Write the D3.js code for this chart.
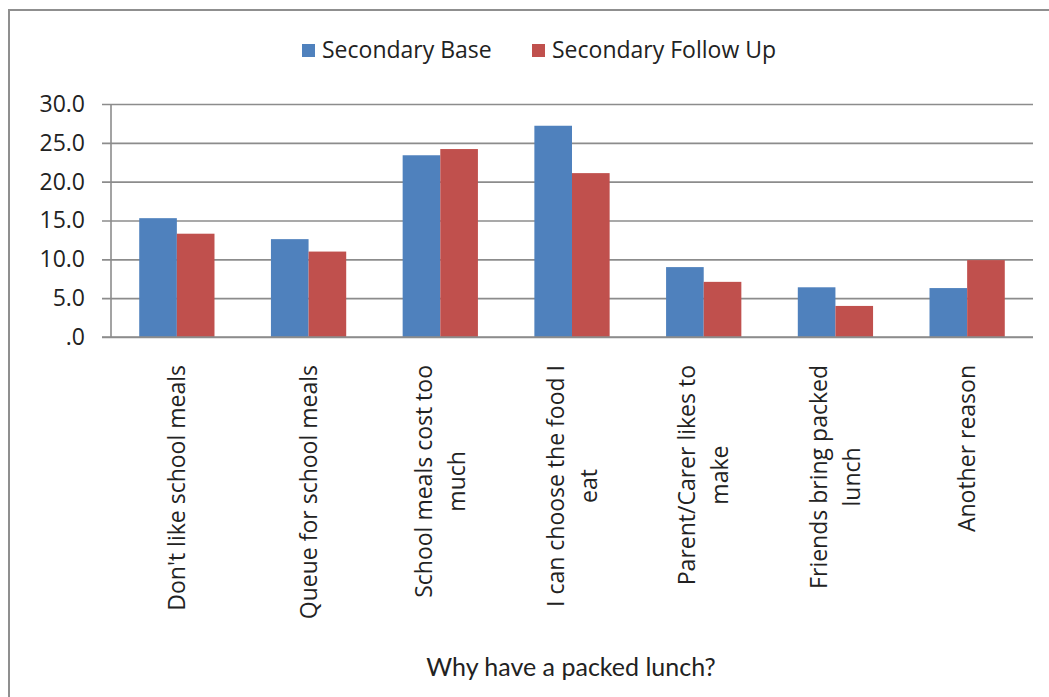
<!DOCTYPE html>
<html>
<head>
<meta charset="utf-8">
<script src="https://cdn.jsdelivr.net/npm/d3@7"></script>
<style>
  html, body { margin: 0; padding: 0; background: #fff; }
  svg { display: block; }
</style>
</head>
<body>
<svg id="chart" width="1049" height="697"></svg>
<script>
const categories = [
  ["Don't like school meals"],
  ["Queue for school meals"],
  ["School meals cost too", "much"],
  ["I can choose the food I", "eat"],
  ["Parent/Carer likes to", "make"],
  ["Friends bring packed", "lunch"],
  ["Another reason"]
];
const seriesNames = ["Secondary Base", "Secondary Follow Up"];
const baseValues = [15.3, 12.6, 23.4, 27.2, 9.0, 6.4, 6.3];
const followUpValues = [13.3, 11.0, 24.2, 21.1, 7.1, 4.0, 9.9];
const yTicks = [0, 5, 10, 15, 20, 25, 30];
const colors = ["#4F81BD", "#C0504D"];
const axisTitle = "Why have a packed lunch?";

(function () {
const svg = d3.select("#chart");
const plotL = 111, plotR = 1033, plotT = 104, plotB = 337;

// outer frame (extends past the bottom/right of the view)
svg.append("rect")
  .attr("x", 9).attr("y", 10).attr("width", 1200).attr("height", 900)
  .attr("fill", "none").attr("stroke", "#8f8f8f").attr("stroke-width", 2);

const idx = categories.map((d, i) => i);
const x = d3.scaleBand().domain(idx).range([plotL, plotR])
  .paddingInner(1.5 / 3.5).paddingOuter(0.75 / 3.5);
const xs = d3.scaleBand().domain([0, 1]).range([0, x.bandwidth()]);
const y = d3.scaleLinear().domain([0, 30]).range([plotB, plotT]);

// gridlines + y axis ticks
const yAxis = d3.axisLeft(y).tickValues(yTicks)
  .tickSize(-(plotR - plotL))
  .tickFormat(d => d === 0 ? ".0" : d.toFixed(1));
const gy = svg.append("g").attr("transform", `translate(${plotL},0)`).call(yAxis);
gy.select(".domain").remove();
gy.selectAll(".tick line")
  .attr("x1", -(plotL - 102))
  .attr("stroke", "#8c8c8c").attr("stroke-width", 1.6);
gy.selectAll(".tick text")
  .attr("x", -26)
  .attr("font-family", "'Open Sans', sans-serif")
  .attr("font-size", 23).attr("fill", "#222");

// y axis line
svg.append("line")
  .attr("x1", plotL).attr("x2", plotL).attr("y1", plotT).attr("y2", plotB)
  .attr("stroke", "#8c8c8c").attr("stroke-width", 1.6);

// bars
const seriesData = [baseValues, followUpValues];
seriesData.forEach((vals, s) => {
  svg.append("g").selectAll("rect")
    .data(vals)
    .join("rect")
    .attr("x", (d, i) => x(i) + xs(s))
    .attr("width", xs.bandwidth())
    .attr("y", d => y(d))
    .attr("height", d => y(0) - y(d))
    .attr("fill", colors[s]);
});

// x axis baseline on top of bars
svg.append("line")
  .attr("x1", 102).attr("x2", plotR).attr("y1", plotB).attr("y2", plotB)
  .attr("stroke", "#8c8c8c").attr("stroke-width", 1.6);

// category labels (rotated, wrapped lines centered)
const lineGap = 33;
categories.forEach((lines, i) => {
  const cx = x(i) + x.bandwidth() / 2;
  const g = svg.append("g").attr("transform", `translate(${cx},365) rotate(-90)`);
  const texts = g.selectAll("text").data(lines).join("text")
    .attr("font-family", "'Open Sans', sans-serif")
    .attr("font-size", 23)
    .attr("fill", "#222")
    .attr("text-anchor", "middle")
    .attr("dy", "0.35em")
    .attr("y", (d, j) => (j - (lines.length - 1) / 2) * lineGap)
    .text(d => d);
  let maxW = 0;
  texts.each(function () { maxW = Math.max(maxW, this.getComputedTextLength()); });
  texts.attr("x", -maxW / 2);
});

// legend
const legend = [
  { name: seriesNames[0], color: colors[0], x: 302 },
  { name: seriesNames[1], color: colors[1], x: 532 }
];
legend.forEach(l => {
  svg.append("rect").attr("x", l.x).attr("y", 44).attr("width", 13).attr("height", 13)
    .attr("fill", l.color);
  svg.append("text").attr("x", l.x + 20).attr("y", 58)
    .attr("font-family", "'Open Sans', sans-serif")
    .attr("font-size", 23).attr("fill", "#222")
    .text(l.name);
});

// axis title
svg.append("text")
  .attr("x", 571).attr("y", 676)
  .attr("text-anchor", "middle")
  .attr("font-family", "Lato, sans-serif")
  .attr("font-size", 25).attr("fill", "#222")
  .text(axisTitle);
})();
</script>
</body>
</html>
